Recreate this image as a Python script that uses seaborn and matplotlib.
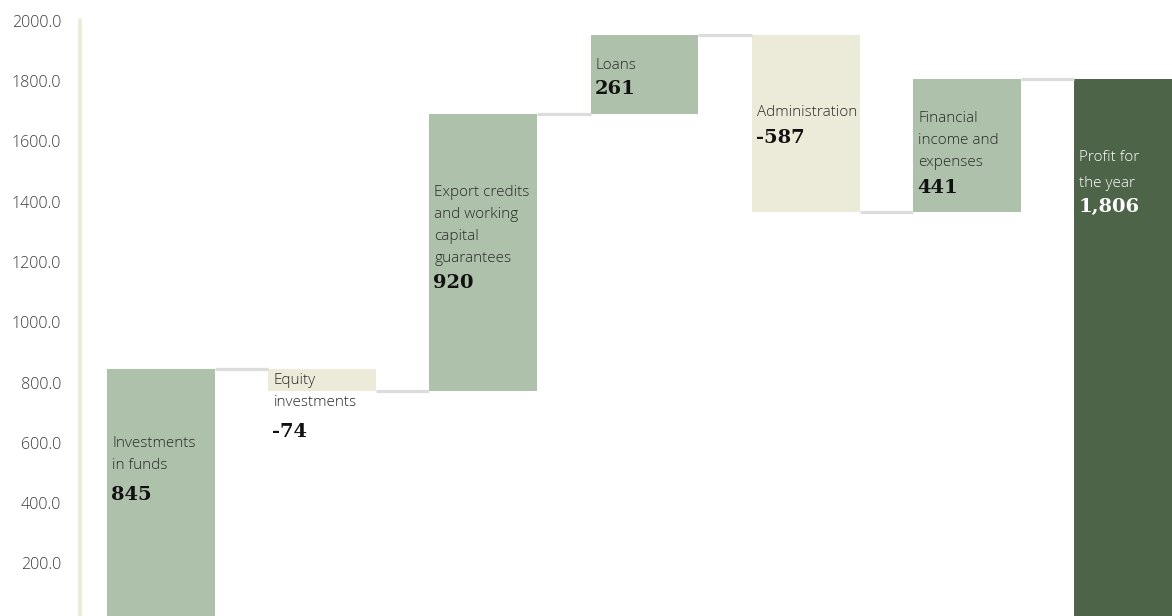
import numpy as np
import pandas as pd
import seaborn as sns
import matplotlib.pyplot as plt

# ---------------- data ----------------
categories = ["Investments in funds", "Equity investments",
              "Export credits and working capital guarantees", "Loans",
              "Administration", "Financial income and expenses", "Profit for the year"]
label_lines = [["Investments", "in funds"],
               ["Equity", "investments"],
               ["Export credits", "and working", "capital", "guarantees"],
               ["Loans"],
               ["Administration"],
               ["Financial", "income and", "expenses"],
               ["Profit for", "the year"]]
values = [845, -74, 920, 261, -587, 441, 1806]
value_labels = ["845", "-74", "920", "261", "-587", "441", "1,806"]
is_total = [False, False, False, False, False, False, True]
yticks = [200, 400, 600, 800, 1000, 1200, 1400, 1600, 1800, 2000]

# waterfall bottoms / heights
bottoms = []
run = 0
for v, tot in zip(values, is_total):
    if tot:
        bottoms.append(0)
    else:
        bottoms.append(run)
        run += v
df = pd.DataFrame({"cat": categories, "height": values, "bottom": bottoms})
tops = [max(b, b + h) for b, h in zip(bottoms, values)]
levels = [b + h for b, h in zip(bottoms, values)]

POS = "#aec1aa"
NEG = "#ecebd9"
TOT = "#4d6449"
colors = [TOT if t else (POS if v >= 0 else NEG) for v, t in zip(values, is_total)]

# label layout (pixel offsets below bar top)
first_off = [74, 11, 78, 30, 77, 39, 78]
line_gap = [22, 22, 22, 22, 22, 22, 26]
num_off = [126, 63, 169, 54, 103, 109, 128]

# ---------------- plot ----------------
sns.set_theme(style="white")
plt.rcParams["font.family"] = ["Open Sans", "DejaVu Sans"]

W, H = 1172, 616
fig = plt.figure(figsize=(W / 100, H / 100), dpi=100)
ax = fig.add_axes([80 / W, 0, 1 - 80 / W, (H - 20.9) / H])

sns.barplot(data=df, x="cat", y="height", bottom=df["bottom"].values,
            color=POS, width=0.668, ax=ax, linewidth=0, saturation=1)
for p, c in zip(ax.patches, colors):
    p.set_facecolor(c)
    p.set_edgecolor("none")

w = 0.668
# connectors
for i in range(len(values) - 1):
    ax.plot([i + w / 2, i + 1 - w / 2], [levels[i], levels[i]],
            color="#dcdcdc", lw=2.3, solid_capstyle="butt", zorder=3)

ax.set_xlim(-0.502, 6.272)
ax.set_ylim(25.5, 2000)
ax.set_yticks(yticks)
ax.set_yticklabels([f"{t:.1f}" for t in yticks])
ax.tick_params(axis="y", length=0, pad=13.5, labelsize=11.5, labelcolor="#3a3a3a")
for lab in ax.get_yticklabels():
    lab.set_fontweight("light")
ax.set_xticks([])
ax.set_xlabel("")
ax.set_ylabel("")
for s in ["top", "right", "bottom"]:
    ax.spines[s].set_visible(False)
ax.spines["left"].set_color("#ecebd9")
ax.spines["left"].set_linewidth(2.8)

for i, (lines, vl) in enumerate(zip(label_lines, value_labels)):
    tc = "white" if is_total[i] else "#2a2a2a"
    nc = "white" if is_total[i] else "#111111"
    x0 = i - w / 2
    for k, ln in enumerate(lines):
        ax.annotate(ln, (x0, tops[i]), xycoords="data", textcoords="offset pixels",
                    xytext=(5, -(first_off[i] + line_gap[i] * k)),
                    ha="left", va="center", fontsize=11, fontweight="light",
                    color=tc, zorder=5)
    ax.annotate(vl, (x0, tops[i]), xycoords="data", textcoords="offset pixels",
                xytext=(4, -num_off[i]), ha="left", va="center",
                fontsize=14, fontweight="bold", family="DejaVu Serif",
                color=nc, zorder=5)

fig.savefig("out.png", dpi=100)
